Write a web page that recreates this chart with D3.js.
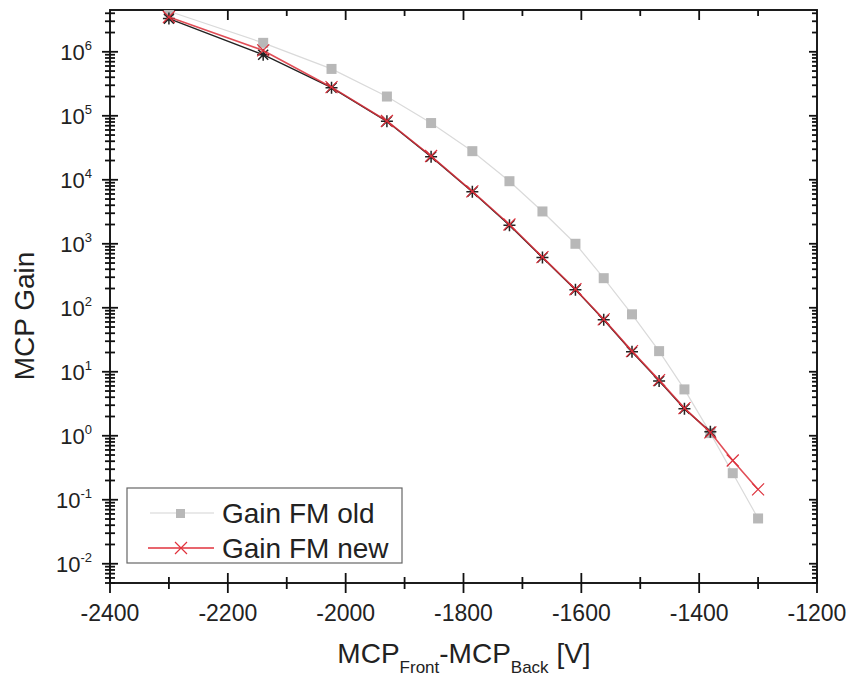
<!DOCTYPE html>
<html>
<head>
<meta charset="utf-8">
<script src="https://cdn.jsdelivr.net/npm/d3@7"></script>
<style>
  html, body { margin: 0; padding: 0; background: #fff; }
  svg { display: block; font-family: "Liberation Sans", Arial, sans-serif; }
</style>
</head>
<body>
<svg id="chart" width="850" height="678"></svg>
<script>
// ---- data ----
const voltage = [-2300, -2140, -2024, -1930, -1855, -1785, -1722, -1666, -1610, -1562, -1514, -1468, -1425, -1381, -1343, -1300];
const gainOld = [4.3e6, 1.38e6, 5.4e5, 2.0e5, 7.7e4, 2.8e4, 9.5e3, 3.2e3, 1.0e3, 290, 79, 21, 5.3, 1.1, 0.26, 0.051];
const gainNew = [3.5e6, 1.05e6, 2.8e5, 8.3e4, 2.35e4, 6.6e3, 2.0e3, 620, 195, 66, 21, 7.4, 2.7, 1.13, 0.41, 0.145];
const voltageRef = [-2300, -2140, -2024, -1930, -1855, -1785, -1722, -1666, -1610, -1562, -1514, -1468, -1425, -1381];
const gainRef = [3.3e6, 9.0e5, 2.75e5, 8.2e4, 2.3e4, 6.5e3, 1.95e3, 610, 192, 65, 20.5, 7.2, 2.65, 1.15];
const xTicks = [-2400, -2200, -2000, -1800, -1600, -1400, -1200];
const yDecades = [-2, -1, 0, 1, 2, 3, 4, 5, 6];
const legendLabels = ["Gain FM old", "Gain FM new"];

const svg = d3.select("#chart");
const L = 110, R = 817, T = 10, B = 583;
const x = d3.scaleLinear().domain([-2400, -1200]).range([L, R]);
const y = d3.scaleLog().domain([5e-3, 4.5e6]).range([B, T]);

const ax = svg.append("g").attr("stroke", "#111").attr("stroke-width", 1.8);

// x ticks (major every 200, minor every 100)
for (let v = -2400; v <= -1200; v += 100) {
  const major = v % 200 === 0;
  const px = x(v);
  const h = major ? 10 : 6;
  ax.append("line").attr("x1", px).attr("x2", px).attr("y1", B - h).attr("y2", B + h);
  if (v !== -2400 && v !== -1200)
    ax.append("line").attr("x1", px).attr("x2", px).attr("y1", T).attr("y2", T + h);
}
// y ticks (log)
for (let d = -3; d <= 6; d++) {
  for (let k = 1; k <= 9; k++) {
    const val = k * Math.pow(10, d);
    if (val < 5e-3 || val > 4.5e6) continue;
    const py = y(val);
    const h = k === 1 ? 8 : 5;
    ax.append("line").attr("x1", L - h).attr("x2", L + h).attr("y1", py).attr("y2", py);
    ax.append("line").attr("x1", R - h).attr("x2", R).attr("y1", py).attr("y2", py);
  }
}
// frame
svg.append("rect").attr("x", L).attr("y", T).attr("width", R - L).attr("height", B - T)
  .attr("fill", "none").attr("stroke", "#111").attr("stroke-width", 1.9);

// x tick labels
svg.append("g").selectAll("text").data(xTicks).join("text")
  .attr("x", d => x(d)).attr("y", 621).attr("text-anchor", "middle")
  .attr("font-size", 23).attr("fill", "#222").text(d => d);

// y tick labels
const yl = svg.append("g").selectAll("text").data(yDecades).join("text")
  .attr("x", 92).attr("y", d => y(Math.pow(10, d)) + 8).attr("text-anchor", "end")
  .attr("font-size", 22).attr("fill", "#222");
yl.append("tspan").text("10");
yl.append("tspan").attr("font-size", 13).attr("dy", -10).text(d => d);

// axis titles
const xt = svg.append("text").attr("x", 464).attr("y", 663).attr("text-anchor", "middle")
  .attr("font-size", 28).attr("fill", "#222");
xt.append("tspan").text("MCP");
xt.append("tspan").attr("font-size", 17).attr("dy", 10).text("Front");
xt.append("tspan").attr("dy", -10).text("-MCP");
xt.append("tspan").attr("font-size", 17).attr("dy", 10).text("Back");
xt.append("tspan").attr("dy", -10).text(" [V]");

svg.append("text").attr("transform", "translate(34,316) rotate(-90)").attr("text-anchor", "middle")
  .attr("font-size", 28).attr("fill", "#222").text("MCP Gain");

// clip
svg.append("clipPath").attr("id", "clip").append("rect")
  .attr("x", L).attr("y", T).attr("width", R - L).attr("height", B - T);
const plot = svg.append("g").attr("clip-path", "url(#clip)");

const line = d3.line().x(d => x(d[0])).y(d => y(d[1]));
const oldPts = voltage.map((v, i) => [v, gainOld[i]]);
const newPts = voltage.map((v, i) => [v, gainNew[i]]);
const refPts = voltageRef.map((v, i) => [v, gainRef[i]]);

// old series
plot.append("path").datum(oldPts).attr("d", line).attr("fill", "none")
  .attr("stroke", "#dadada").attr("stroke-width", 1.2);
plot.selectAll(".sq").data(oldPts).join("rect")
  .attr("x", d => x(d[0]) - 5).attr("y", d => y(d[1]) - 5)
  .attr("width", 10).attr("height", 10).attr("fill", "#b8b8b8");

// reference (black) series
plot.append("path").datum(refPts).attr("d", line).attr("fill", "none")
  .attr("stroke", "#222").attr("stroke-width", 1.4);
const star = "M-5,-5L5,5M-5,5L5,-5M0,-6L0,6M-6,0L6,0";
plot.selectAll(".st").data(refPts).join("path")
  .attr("transform", d => `translate(${x(d[0])},${y(d[1])})`)
  .attr("d", star).attr("stroke", "#222").attr("stroke-width", 1.5).attr("fill", "none");

// new series
plot.append("path").datum(newPts).attr("d", line).attr("fill", "none")
  .attr("stroke", "#dc2f3a").attr("stroke-width", 1.6).attr("stroke-opacity", 0.85);
const cross = "M-6,-6L6,6M-6,6L6,-6";
plot.selectAll(".cr").data(newPts).join("path")
  .attr("transform", d => `translate(${x(d[0])},${y(d[1])})`)
  .attr("d", cross).attr("stroke", "#dc2f3a").attr("stroke-width", 1.2).attr("fill", "none");

// legend
const lg = svg.append("g");
lg.append("rect").attr("x", 127).attr("y", 488).attr("width", 275).attr("height", 75)
  .attr("fill", "#fff").attr("stroke", "#666").attr("stroke-width", 1.2);
lg.append("line").attr("x1", 150).attr("x2", 214).attr("y1", 513).attr("y2", 513)
  .attr("stroke", "#d4d4d4").attr("stroke-width", 1.2);
lg.append("rect").attr("x", 176).attr("y", 509).attr("width", 9).attr("height", 9).attr("fill", "#b8b8b8");
lg.append("line").attr("x1", 148).attr("x2", 214).attr("y1", 548).attr("y2", 548)
  .attr("stroke", "#e0323c").attr("stroke-width", 1.4);
lg.append("path").attr("transform", "translate(181,548)").attr("d", cross)
  .attr("stroke", "#e0323c").attr("stroke-width", 1.2).attr("fill", "none");
lg.selectAll("text").data(legendLabels).join("text")
  .attr("x", 222).attr("y", (d, i) => 523 + i * 35)
  .attr("font-size", 28).attr("fill", "#222").text(d => d);
</script>
</body>
</html>
